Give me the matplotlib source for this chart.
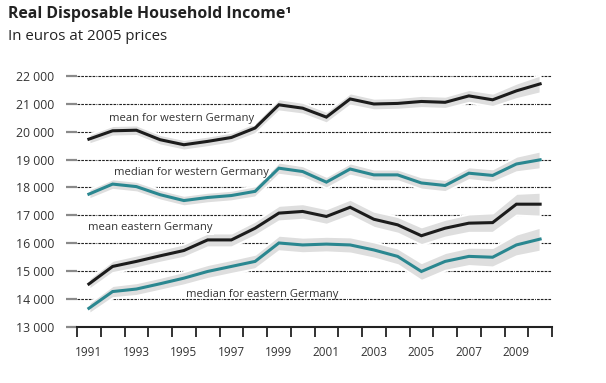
import matplotlib.pyplot as plt
from matplotlib.ticker import FuncFormatter

# 資料 (從圖上讀取的估計值)
years = list(range(1991, 2011))
mean_west = [19730, 20030, 20050, 19710, 19530, 19650, 19790, 20130, 20960, 20840,
             20520, 21170, 20990, 21010, 21080, 21050, 21280, 21140, 21460, 21710]
median_west = [17760, 18120, 18030, 17740, 17530, 17640, 17710, 17860, 18690, 18570,
               18190, 18660, 18450, 18450, 18160, 18070, 18510, 18430, 18840, 18990]
mean_east = [14540, 15170, 15350, 15550, 15740, 16120, 16120, 16540, 17080, 17140,
             16960, 17290, 16860, 16660, 16270, 16540, 16720, 16740, 17400, 17400]
median_east = [13670, 14270, 14360, 14550, 14750, 14990, 15170, 15350, 16010, 15940,
               15970, 15940, 15760, 15530, 14990, 15350, 15530, 15500, 15940, 16150]
# 灰色區間的半寬
band_west = [180, 190, 190, 190, 190, 190, 190, 200, 220, 210,
             210, 220, 210, 210, 220, 220, 230, 240, 280, 320]
band_east = [200, 220, 230, 230, 240, 250, 250, 260, 280, 280,
             280, 290, 290, 300, 320, 320, 330, 350, 390, 430]

series = [
    (mean_west, band_west, '#1c1c1c', 'mean for western Germany', 1991.85, 20480),
    (median_west, band_west, '#2a8790', 'median for western Germany', 1992.05, 18530),
    (mean_east, band_east, '#1c1c1c', 'mean eastern Germany', 1990.95, 16560),
    (median_east, band_east, '#2a8790', 'median for eastern Germany', 1995.1, 14180),
]

fig = plt.figure(figsize=(6.06, 3.83), dpi=100)
ax = fig.add_axes([77 / 606, 56 / 383, 475 / 606, 254 / 383])

# 虛線格線 (----.----.)
grid_dash = (0, (2.4, 1.0, 2.4, 1.0, 2.4, 1.0, 2.4, 1.0, 2.4, 1.0, 0.8, 1.0))
for v in range(14000, 22001, 1000):
    ax.axhline(v, color='#222222', lw=0.8, ls=grid_dash, zorder=1)

for vals, band, color, label, lx, ly in series:
    lo = [v - b for v, b in zip(vals, band)]
    hi = [v + b for v, b in zip(vals, band)]
    ax.fill_between(years, lo, hi, color='#dedede', lw=1.5, edgecolor='white', zorder=2)
    ax.plot(years, vals, color=color, lw=2.2, solid_joinstyle='miter', zorder=4)
    box = None if 'eastern Germany' in label and 'median' in label else \
        dict(facecolor='white', edgecolor='none', pad=1.5)
    ax.text(lx, ly, label, fontsize=8.1, color='#333333', family='Open Sans',
            ha='left', va='center', bbox=box, zorder=3)

ax.set_xlim(1990.5, 2010.5)
ax.set_ylim(13000, 22100)

# x 軸: 刻度在年份之間, 標籤在中間
ax.set_xticks([y + 0.5 for y in range(1990, 2011)])
ax.set_xticklabels([])
ax.set_xticks(list(range(1991, 2011, 2)), minor=True)
ax.set_xticklabels([str(y) for y in range(1991, 2011, 2)], minor=True,
                   fontsize=8.5, color='#333333', family='Open Sans')
ax.tick_params(axis='x', which='major', length=7, width=1.3, color='#222222', direction='out')
ax.tick_params(axis='x', which='minor', length=0, pad=14)

ax.set_yticks(list(range(13000, 22001, 1000)))
ax.yaxis.set_major_formatter(FuncFormatter(lambda v, p: '{:,}'.format(int(v)).replace(',', ' ')))
ax.tick_params(axis='y', length=8, width=1.6, color='#8a8a8a', pad=8.5,
               labelsize=8.8, labelcolor='#333333')
for t in ax.get_yticklabels():
    t.set_family('Open Sans')

for s in ['top', 'right', 'left']:
    ax.spines[s].set_visible(False)
ax.spines['bottom'].set_linewidth(1.5)
ax.spines['bottom'].set_color('#222222')

# 標題
fig.text(8 / 606, 1 - 14 / 383, 'Real Disposable Household Income\u00b9', fontsize=11.4,
         fontweight='bold', color='#222222', family='Open Sans', va='center', ha='left')
fig.text(8 / 606, 1 - 37 / 383, 'In euros at 2005 prices', fontsize=10.8,
         color='#222222', family='Open Sans', va='center', ha='left')

fig.savefig('out.png', dpi=100)
